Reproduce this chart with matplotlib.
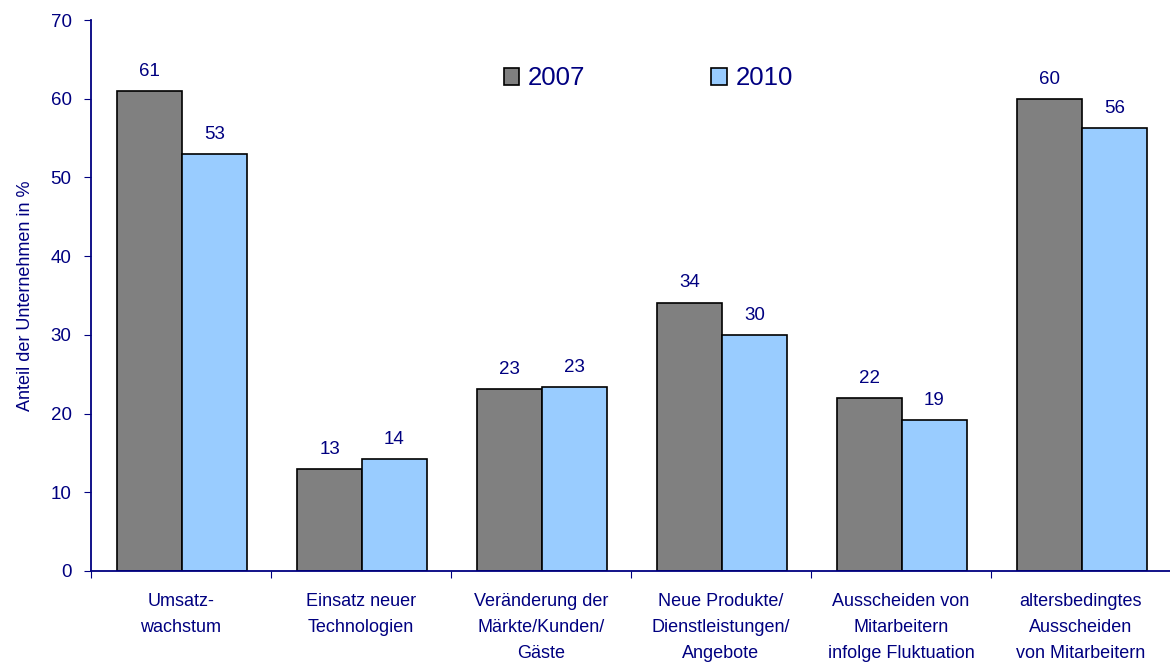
import matplotlib
matplotlib.use("Agg")
import matplotlib.pyplot as plt
from matplotlib.patches import Patch
import numpy as np

plt.rcParams['font.family'] = ['Liberation Sans', 'DejaVu Sans']

categories = ["Umsatz-\nwachstum", "Einsatz neuer\nTechnologien",
              "Veränderung der\nMärkte/Kunden/\nGäste",
              "Neue Produkte/\nDienstleistungen/\nAngebote",
              "Ausscheiden von\nMitarbeitern\ninfolge Fluktuation",
              "altersbedingtes\nAusscheiden\nvon Mitarbeitern"]
series_names = ["2007", "2010"]
values_2007 = [61, 13, 23.1, 34.1, 22, 60]
values_2010 = [53, 14.2, 23.4, 30, 19.2, 56.3]
yticks = [0, 10, 20, 30, 40, 50, 60, 70]

navy = "#000080"
c2007 = "#808080"
c2010 = "#99CCFF"

fig = plt.figure(figsize=(11.7, 6.63), dpi=100)
ax = fig.add_axes([0.0778, 0.1388, 0.923, 0.831])

x = np.arange(len(categories))
w = 0.36
off = 0.006
b1 = ax.bar(x - w/2 + off, values_2007, w, color=c2007, edgecolor="black", linewidth=1.2)
b2 = ax.bar(x + w/2 + off, values_2010, w, color=c2010, edgecolor="black", linewidth=1.2)

for bars, vals in ((b1, values_2007), (b2, values_2010)):
    for r, v in zip(bars, vals):
        ax.annotate(f"{round(v):d}", (r.get_x() + r.get_width()/2, v),
                    xytext=(0, 8), textcoords="offset points",
                    ha="center", va="bottom", fontsize=13.5, color=navy)

ax.set_xlim(-0.5, 5.5)
ax.set_ylim(0, 70)
ax.set_yticks(yticks)
ax.set_yticklabels([str(t) for t in yticks])
ax.set_xticks(np.arange(-0.5, 6.0, 1.0))
ax.set_xticklabels([])
ax.set_xticks(x, minor=True)
ax.set_xticklabels(categories, minor=True, fontsize=13, color=navy, linespacing=1.72, va="top")
ax.tick_params(axis="x", which="minor", length=0, pad=15.5)
ax.tick_params(axis="x", which="major", length=5, color=navy, direction="out")
ax.tick_params(axis="y", length=5, color=navy, direction="out", labelsize=13.5, labelcolor=navy, pad=9)

for s in ("top", "right"):
    ax.spines[s].set_visible(False)
for s in ("left", "bottom"):
    ax.spines[s].set_color(navy)
    ax.spines[s].set_linewidth(1.3)

ax.set_ylabel("Anteil der Unternehmen in %", fontsize=13, color=navy, labelpad=12)

handles = [Patch(facecolor=c2007, edgecolor="black", linewidth=1.2),
           Patch(facecolor=c2010, edgecolor="black", linewidth=1.2)]
ax.legend(handles, series_names, ncol=2, frameon=False, fontsize=18.5,
          labelcolor=navy, handlelength=0.6, handleheight=0.6, handletextpad=0.35,
          columnspacing=4.9, loc="center", bbox_to_anchor=(0.516, 0.894))

fig.savefig("out.png", dpi=100)
